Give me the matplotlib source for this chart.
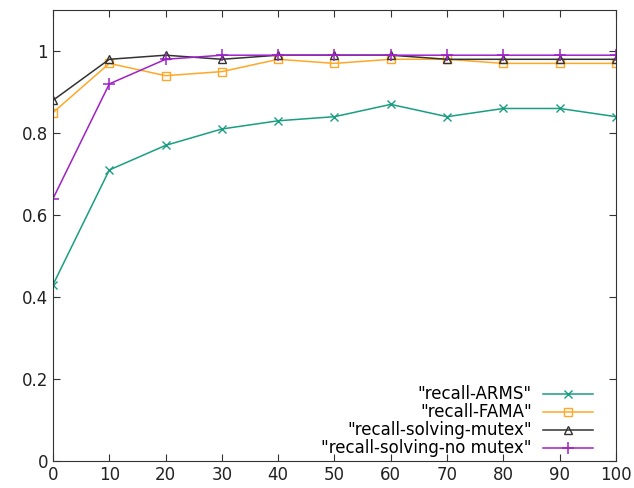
import matplotlib
matplotlib.use("Agg")
import matplotlib.pyplot as plt

# recall vs. percentage, four configurations
x = [0, 10, 20, 30, 40, 50, 60, 70, 80, 90, 100]
recall_arms = [0.43, 0.71, 0.77, 0.81, 0.83, 0.84, 0.87, 0.84, 0.86, 0.86, 0.84]
recall_fama = [0.85, 0.97, 0.94, 0.95, 0.98, 0.97, 0.98, 0.98, 0.97, 0.97, 0.97]
recall_mutex = [0.88, 0.98, 0.99, 0.98, 0.99, 0.99, 0.99, 0.98, 0.98, 0.98, 0.98]
recall_nomutex = [0.64, 0.92, 0.98, 0.99, 0.99, 0.99, 0.99, 0.99, 0.99, 0.99, 0.99]

fig = plt.figure(figsize=(6.34, 4.88), dpi=100)
ax = fig.add_axes([0.0836, 0.0553, 0.888, 0.924])

ax.plot(x, recall_arms, color="#1a9e82", marker="x", ms=5.5, lw=1.1,
        label='"recall-ARMS"')
ax.plot(x, recall_fama, color="#ffa726", marker="s", ms=6, mfc="none", lw=1.1,
        label='"recall-FAMA"')
ax.plot(x, recall_mutex, color="#333333", marker="^", ms=6, mfc="none", lw=1.1,
        label='"recall-solving-mutex"')
ax.plot(x, recall_nomutex, color="#a020c8", marker="+", ms=8, mew=1.1, lw=1.1,
        label='"recall-solving-no mutex"')

ax.set_xlim(0, 100)
ax.set_ylim(0, 1.1)
ax.set_xticks(range(0, 101, 10))
ax.set_yticks([0, 0.2, 0.4, 0.6, 0.8, 1.0])
ax.set_yticklabels(["0", "0.2", "0.4", "0.6", "0.8", "1"])
ax.tick_params(direction="in", top=True, right=True, labelsize=12,
               length=5, color="#333333", labelcolor="#222222")
for s in ax.spines.values():
    s.set_color("#333333")

ax.legend(loc="lower right", bbox_to_anchor=(0.96, 0.008), frameon=False,
          markerfirst=False, fontsize=12, handlelength=3.0,
          handletextpad=0.7, labelspacing=0.0, borderpad=0,
          borderaxespad=0)

fig.savefig("out.png", dpi=100)
